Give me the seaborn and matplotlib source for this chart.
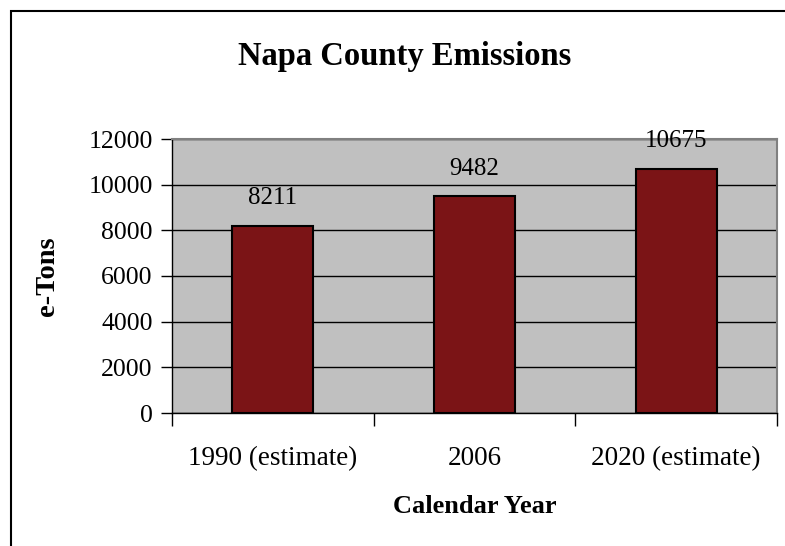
import matplotlib
matplotlib.use('Agg')
import matplotlib.pyplot as plt
import seaborn as sns
import pandas as pd
from matplotlib.patches import Rectangle

# ── 데이터 ────────────────────────────────────────────────────────────
YEARS     = ['1990 (estimate)', '2006', '2020 (estimate)']
EMISSIONS = [8211, 9482, 10675]
Y_TICKS   = [0, 2000, 4000, 6000, 8000, 10000, 12000]

BAR_COLOR = '#7B1416'
BG_COLOR  = '#C0C0C0'

plt.rcParams['font.family'] = ['Liberation Serif', 'DejaVu Serif']

df = pd.DataFrame({'year': YEARS, 'tons': EMISSIONS})

fig = plt.figure(figsize=(7.85, 5.46), dpi=100)
ax = fig.add_axes([172 / 785, 1 - 413 / 546, 605 / 785, 274 / 546])

ax.set_facecolor(BG_COLOR)
ax.set_axisbelow(True)
ax.yaxis.grid(True, color='black', linewidth=1)

sns.barplot(data=df, x='year', y='tons', color=BAR_COLOR, saturation=1,
            edgecolor='black', linewidth=1.5, width=0.4, ax=ax)

ax.set_ylim(0, 12000)
ax.set_xlim(-0.5, 2.5)
ax.set_yticks(Y_TICKS)
ax.set_yticklabels([str(t) for t in Y_TICKS], fontsize=18.5)
ax.tick_params(axis='y', length=8, width=1, pad=6, color='black')

# 카테고리 경계에 눈금, 레이블은 중앙
ax.set_xticks(range(len(YEARS)))
ax.set_xticklabels(YEARS, fontsize=19.5)
ax.set_xticks([-0.5, 0.5, 1.5, 2.5], minor=True)
ax.tick_params(axis='x', which='major', length=0, pad=24)
ax.tick_params(axis='x', which='minor', length=9, width=1, color='black')

for side in ['top', 'right']:
    ax.spines[side].set_color('#808080')
    ax.spines[side].set_linewidth(1.5)
for side in ['left', 'bottom']:
    ax.spines[side].set_color('black')
    ax.spines[side].set_linewidth(1)

for i, v in enumerate(EMISSIONS):
    ax.annotate(f'{v}', (i, v), xytext=(0, 20), textcoords='offset points',
                ha='center', va='center', fontsize=18)

ax.set_xlabel('Calendar Year', fontsize=19, fontweight='bold', labelpad=17)
ax.set_ylabel('e-Tons', fontsize=20.5, fontweight='bold', labelpad=20)

fig.text(405 / 785, 1 - 56 / 546, 'Napa County Emissions', ha='center', va='center',
         fontsize=23.5, fontweight='bold')

# 차트 외곽 테두리 (오른쪽/아래는 잘림)
fig.patches.append(Rectangle((11 / 785, -0.1), 1.2, 1.1 - 11 / 546,
                             transform=fig.transFigure, fill=False,
                             edgecolor='black', linewidth=1.5))

plt.savefig('out.png', dpi=100)
